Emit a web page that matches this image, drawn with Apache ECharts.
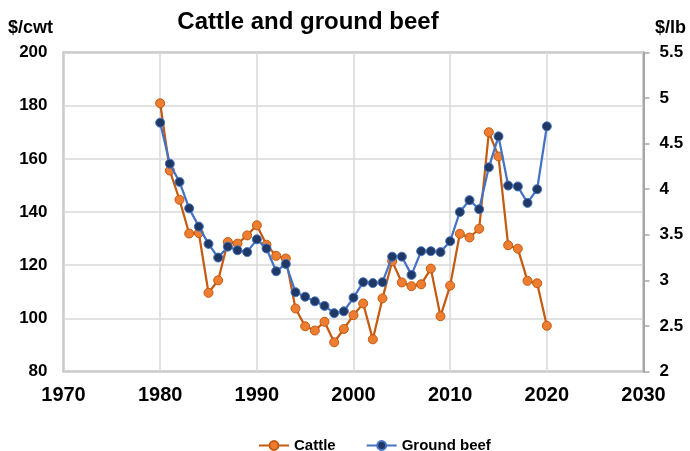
<!DOCTYPE html>
<html>
<head>
<meta charset="utf-8">
<script src="https://cdn.jsdelivr.net/npm/echarts@6/dist/echarts.min.js"></script>
<style>
  html, body { margin: 0; padding: 0; background: #fff; }
  #chart { width: 690px; height: 451px; }
</style>
</head>
<body>
<div id="chart"></div>
<script>
// Annual prices: live cattle ($/cwt, left axis) and retail ground beef ($/lb, right axis)
const years = [
  1980, 1981, 1982, 1983, 1984, 1985, 1986, 1987, 1988, 1989,
  1990, 1991, 1992, 1993, 1994, 1995, 1996, 1997, 1998, 1999,
  2000, 2001, 2002, 2003, 2004, 2005, 2006, 2007, 2008, 2009,
  2010, 2011, 2012, 2013, 2014, 2015, 2016, 2017, 2018, 2019, 2020
];
const cattle = [
  180.9, 155.6, 144.6, 131.9, 132.1, 109.6, 114.3, 128.7, 128.1, 131.2,
  135.0, 127.7, 123.5, 122.5, 103.7, 97.0, 95.4, 98.7, 91.0, 96.0,
  101.2, 105.6, 92.1, 107.5, 121.5, 113.5, 112.1, 112.8, 118.7, 100.8,
  112.3, 131.8, 130.4, 133.7, 170.0, 160.9, 127.5, 126.2, 114.1, 113.2, 97.2
];
const groundBeef = [
  4.73, 4.28, 4.08, 3.79, 3.59, 3.40, 3.25, 3.37, 3.33, 3.31,
  3.45, 3.35, 3.10, 3.18, 2.87, 2.82, 2.77, 2.72, 2.64, 2.66,
  2.81, 2.98, 2.97, 2.98, 3.26, 3.26, 3.06, 3.32, 3.32, 3.31,
  3.43, 3.75, 3.88, 3.78, 4.24, 4.58, 4.04, 4.03, 3.85, 4.00, 4.69
];
const seriesNames = ['Cattle', 'Ground beef'];

const FONT = '"Liberation Sans", Arial, sans-serif';
const labelStyle = (size) => ({ fontFamily: FONT, fontWeight: 'bold', fontSize: size, color: '#000' });

const chart = echarts.init(document.getElementById('chart'), null, { renderer: 'canvas' });

chart.setOption({
  backgroundColor: '#fff',
  animation: false,
  title: {
    text: 'Cattle and ground beef',
    left: 303, top: 5, textAlign: 'center',
    textStyle: labelStyle(24)
  },
  graphic: [
    { type: 'text', left: 8, top: 19, style: { text: '$/cwt', font: 'bold 18px ' + FONT, fill: '#000' } },
    { type: 'text', left: 655, top: 19, style: { text: '$/lb', font: 'bold 18px ' + FONT, fill: '#000' } }
  ],
  grid: {
    left: 63.5, right: 46.5, top: 52.5, bottom: 79.5,
    show: true, borderColor: '#a6a6a6', borderWidth: 2, backgroundColor: 'transparent'
  },
  legend: {
    top: 433, left: 253, itemGap: 30,
    itemWidth: 30, itemHeight: 11,
    data: seriesNames,
    textStyle: Object.assign(labelStyle(15), { padding: [0, 0, 0, 0] })
  },
  xAxis: {
    type: 'value', min: 1970, max: 2030, interval: 10,
    axisLine: { show: false }, axisTick: { show: false },
    axisLabel: Object.assign({ margin: 14, formatter: (v) => String(v) }, labelStyle(20)),
    splitLine: { show: true, lineStyle: { color: '#d9d9d9', width: 1.5 } }
  },
  yAxis: [
    {
      type: 'value', min: 80, max: 200, interval: 20,
      axisLine: { show: false }, axisTick: { show: false },
      axisLabel: Object.assign({ margin: 16 }, labelStyle(17)),
      splitLine: { show: true, lineStyle: { color: '#d9d9d9', width: 1.5 } }
    },
    {
      type: 'value', min: 2, max: 5.5, interval: 0.5, position: 'right',
      axisLine: { show: true, lineStyle: { color: '#a6a6a6', width: 2 } },
      axisTick: { show: true, length: 6, lineStyle: { color: '#a6a6a6', width: 1.5 } },
      axisLabel: Object.assign({ margin: 16 }, labelStyle(17)),
      splitLine: { show: false }
    }
  ],
  series: [
    {
      name: seriesNames[0], type: 'line', yAxisIndex: 0,
      data: years.map((y, i) => [y, cattle[i]]),
      symbol: 'circle', symbolSize: 9,
      lineStyle: { color: '#c55a11', width: 2.25 },
      itemStyle: { color: '#ed7d31', borderColor: '#c55a11', borderWidth: 1 },
      z: 2
    },
    {
      name: seriesNames[1], type: 'line', yAxisIndex: 1,
      data: years.map((y, i) => [y, groundBeef[i]]),
      symbol: 'circle', symbolSize: 9,
      lineStyle: { color: '#4472c4', width: 2.25 },
      itemStyle: { color: '#1f3864', borderColor: '#4472c4', borderWidth: 1 },
      z: 3
    }
  ]
});
</script>
</body>
</html>
